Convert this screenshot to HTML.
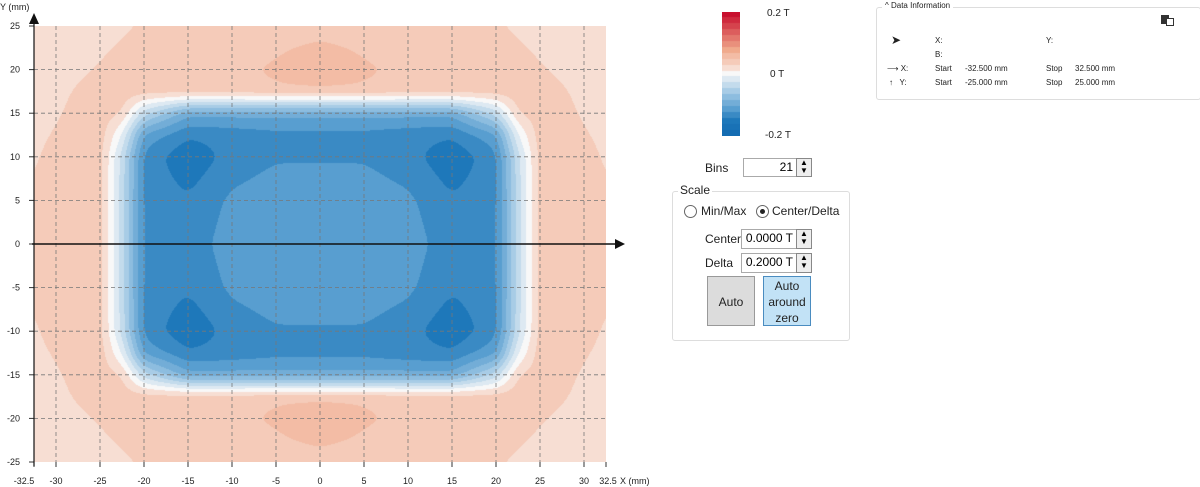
<!DOCTYPE html>
<html><head><meta charset="utf-8">
<style>
body{margin:0;width:1200px;height:487px;background:#fff;font-family:"Liberation Sans",sans-serif;overflow:hidden;position:relative}
.a{position:absolute;white-space:nowrap}
.t{font-size:9px;color:#222}
.ui{font-size:12px;color:#222}
.inp{position:absolute;border:1px solid #aaa;background:#fff;font-size:12px;text-align:right;box-sizing:border-box;padding-right:3px;line-height:17px}
.spin{position:absolute;width:16px;border:1px solid #888;box-sizing:border-box;background:#eee;font-size:8px;line-height:8px;text-align:center}
.di{font-size:8px;color:#222}
</style></head><body>
<canvas id="heat" width="572" height="436" style="position:absolute;left:34px;top:26px"></canvas>
<svg id="ov" width="660" height="487" style="position:absolute;left:0;top:0"></svg>

<canvas id="cbar" width="18" height="124" style="position:absolute;left:722px;top:12px"></canvas>
<div class="a t" style="left:767px;top:8px;font-size:10px">0.2 T</div>
<div class="a t" style="left:770px;top:69px;font-size:10px">0 T</div>
<div class="a t" style="left:765px;top:130px;font-size:10px">-0.2 T</div>

<div class="a ui" style="left:705px;top:161px">Bins</div>
<div class="inp" style="left:743px;top:158px;width:54px;height:19px">21</div>
<div class="spin" style="left:796px;top:158px;height:19px">▲<br>▼</div>

<div class="a" style="left:672px;top:191px;width:176px;height:148px;border:1px solid #ddd;border-radius:3px"></div>
<div class="a ui" style="left:678px;top:183px;background:#fff;padding:0 2px">Scale</div>
<div class="a" style="left:684px;top:205px;width:11px;height:11px;border:1px solid #666;border-radius:50%"></div>
<div class="a ui" style="left:701px;top:204px">Min/Max</div>
<div class="a" style="left:756px;top:205px;width:11px;height:11px;border:1px solid #666;border-radius:50%"><div style="position:absolute;left:3px;top:3px;width:5px;height:5px;background:#222;border-radius:50%"></div></div>
<div class="a ui" style="left:772px;top:204px">Center/Delta</div>
<div class="a ui" style="left:705px;top:232px">Center</div>
<div class="inp" style="left:741px;top:229px;width:56px;height:20px">0.0000 T</div>
<div class="spin" style="left:796px;top:229px;height:20px">▲<br>▼</div>
<div class="a ui" style="left:705px;top:256px">Delta</div>
<div class="inp" style="left:741px;top:253px;width:56px;height:20px">0.2000 T</div>
<div class="spin" style="left:796px;top:253px;height:20px">▲<br>▼</div>
<div class="a ui" style="left:707px;top:276px;width:48px;height:50px;background:#dcdcdc;border:1px solid #999;box-sizing:border-box;text-align:center;line-height:50px">Auto</div>
<div class="a ui" style="left:763px;top:276px;width:48px;height:50px;background:#c2e2f6;border:1px solid #4a8cc0;box-sizing:border-box;text-align:center;line-height:16px;padding-top:1px;white-space:normal">Auto around zero</div>

<div class="a" style="left:876px;top:7px;width:323px;height:91px;border:1px solid #ddd;border-radius:3px"></div>
<div class="a di" style="left:882px;top:1px;background:#fff;padding:0 3px">^ Data Information</div>
<div class="a" style="left:1161px;top:15px;width:8px;height:9px;background:#333"></div>
<div class="a" style="left:1166px;top:18px;width:6px;height:6px;border:1px solid #333;background:#fff"></div>
<div class="a di" style="left:891px;top:33px;font-size:12px">➤</div>
<div class="a di" style="left:935px;top:36px">X:</div>
<div class="a di" style="left:1046px;top:36px">Y:</div>
<div class="a di" style="left:935px;top:50px">B:</div>
<div class="a di" style="left:887px;top:64px">⟶ X:</div>
<div class="a di" style="left:935px;top:64px">Start</div>
<div class="a di" style="left:965px;top:64px">-32.500 mm</div>
<div class="a di" style="left:1046px;top:64px">Stop</div>
<div class="a di" style="left:1075px;top:64px">32.500 mm</div>
<div class="a di" style="left:889px;top:78px">↑&nbsp;&nbsp; Y:</div>
<div class="a di" style="left:935px;top:78px">Start</div>
<div class="a di" style="left:965px;top:78px">-25.000 mm</div>
<div class="a di" style="left:1046px;top:78px">Stop</div>
<div class="a di" style="left:1075px;top:78px">25.000 mm</div>

<script>
const xs=[-32.5,-30,-25,-22.5,-20,-15,-10,-5,0,5,10,15,20,22.5,25,30,32.5];
const ys=[25,20,17.5,15,12.5,10,5,0,-5,-10,-12.5,-15,-17.5,-20,-25];
const field=[
[.015,.017,.022,.026,.03,.035,.038,.04,.04,.04,.038,.035,.03,.026,.022,.017,.015],
[.018,.022,.03,.035,.04,.042,.044,.05,.062,.05,.044,.042,.04,.035,.03,.022,.018],
[.02,.025,.035,.04,.04,.042,.044,.045,.045,.045,.044,.042,.04,.04,.035,.025,.02],
[.022,.027,.038,.03,-.04,-.1,-.1,-.1,-.1,-.1,-.1,-.1,-.04,.03,.038,.027,.022],
[.025,.03,.04,-.01,-.11,-.14,-.135,-.13,-.13,-.13,-.135,-.14,-.11,-.01,.04,.03,.025],
[.027,.033,.038,-.035,-.13,-.158,-.135,-.126,-.126,-.126,-.135,-.158,-.13,-.035,.038,.033,.027],
[.03,.036,.038,-.038,-.13,-.14,-.12,-.112,-.11,-.112,-.12,-.14,-.13,-.038,.038,.036,.03],
[.032,.038,.038,-.038,-.13,-.135,-.114,-.11,-.108,-.11,-.114,-.135,-.13,-.038,.038,.038,.032],
[.03,.036,.038,-.038,-.13,-.14,-.12,-.112,-.11,-.112,-.12,-.14,-.13,-.038,.038,.036,.03],
[.027,.033,.038,-.035,-.13,-.158,-.135,-.126,-.126,-.126,-.135,-.158,-.13,-.035,.038,.033,.027],
[.025,.03,.04,-.01,-.11,-.14,-.135,-.13,-.13,-.13,-.135,-.14,-.11,-.01,.04,.03,.025],
[.022,.027,.038,.03,-.04,-.1,-.1,-.1,-.1,-.1,-.1,-.1,-.04,.03,.038,.027,.022],
[.02,.025,.035,.04,.04,.042,.044,.045,.045,.045,.044,.042,.04,.04,.035,.025,.02],
[.018,.022,.03,.035,.04,.042,.044,.05,.062,.05,.044,.042,.04,.035,.03,.022,.018],
[.015,.017,.022,.026,.03,.035,.038,.04,.04,.04,.038,.035,.03,.026,.022,.017,.015]];
const xTicks=[-32.5,-30,-25,-20,-15,-10,-5,0,5,10,15,20,25,30,32.5];
const yTicks=[25,20,15,10,5,0,-5,-10,-15,-20,-25];
const binCount=21, vCenter=0, vDelta=0.2;

const X0=34,X1=606,Y0=26,Y1=462;
const sx=v=>X0+(v+32.5)/65*(X1-X0);
const sy=v=>Y0+(25-v)/50*(Y1-Y0);
const stops=[[-1,[20,108,178]],[-0.8,[30,120,186]],[-0.7,[58,138,196]],[-0.6,[88,158,208]],[-0.3,[168,204,230]],[0,[248,248,248]],[0.1,[247,222,211]],[0.2,[245,203,185]],[0.3,[243,188,165]],[0.4,[240,170,140]],[1,[200,16,46]]];
function cmap(t){t=Math.max(-1,Math.min(1,t));for(let i=0;i<stops.length-1;i++){const a=stops[i],b=stops[i+1];if(t<=b[0]){const f=(t-a[0])/(b[0]-a[0]);return a[1].map((c,k)=>Math.round(c+(b[1][k]-c)*f));}}return stops[stops.length-1][1];}
function binColor(v){const w=2*vDelta/binCount;let k=Math.round((v-vCenter)/w);const h=(binCount-1)/2;k=Math.max(-h,Math.min(h,k));return cmap(k/h);}
function idx(arr,v,desc){for(let i=0;i<arr.length-1;i++){const a=arr[i],b=arr[i+1];if(desc? (v<=a&&v>=b):(v>=a&&v<=b))return [i,(v-a)/(b-a)];}return [arr.length-2,1];}
function val(x,y){const [i,fx]=idx(xs,x,false),[j,fy]=idx(ys,y,true);
const a=field[j][i],b=field[j][i+1],c=field[j+1][i],d=field[j+1][i+1];return (a*(1-fx)+b*fx)*(1-fy)+(c*(1-fx)+d*fx)*fy;}
const cv=document.getElementById('heat'),ctx=cv.getContext('2d');
const W=cv.width,H=cv.height;
let F=new Float32Array(W*H);
for(let py=0;py<H;py++){const y=25-(py+0.5)/H*50;for(let px=0;px<W;px++){const x=-32.5+(px+0.5)/W*65;F[py*W+px]=val(x,y);}}
function blur(src,r,horiz){const out=new Float32Array(W*H);
 if(horiz){for(let y=0;y<H;y++){for(let x=0;x<W;x++){let s=0,n=0;for(let k=-r;k<=r;k++){const xx=Math.min(W-1,Math.max(0,x+k));s+=src[y*W+xx];n++;}out[y*W+x]=s/n;}}}
 else{for(let x=0;x<W;x++){for(let y=0;y<H;y++){let s=0,n=0;for(let k=-r;k<=r;k++){const yy=Math.min(H-1,Math.max(0,y+k));s+=src[yy*W+x];n++;}out[y*W+x]=s/n;}}}
 return out;}
for(let it=0;it<2;it++){F=blur(F,5,true);F=blur(F,5,false);}
const img=ctx.createImageData(W,H);
for(let i=0;i<W*H;i++){const c=binColor(F[i]);img.data[i*4]=c[0];img.data[i*4+1]=c[1];img.data[i*4+2]=c[2];img.data[i*4+3]=255;}
ctx.putImageData(img,0,0);
const cb=document.getElementById('cbar'),cc=cb.getContext('2d');
for(let k=0;k<binCount;k++){const v=vCenter+vDelta-(k+0.5)*2*vDelta/binCount;const c=binColor(v);cc.fillStyle=`rgb(${c})`;cc.fillRect(0,Math.floor(k*124/binCount),18,Math.ceil(124/binCount)+1);}

const svg=document.getElementById('ov'),NS='http://www.w3.org/2000/svg';
function mk(t,at,p){const e=document.createElementNS(NS,t);for(const k in at)e.setAttribute(k,at[k]);(p||svg).appendChild(e);return e;}
xTicks.forEach(v=>{if(Math.abs(v)===32.5)return;const x=sx(v);
const g=mk('line',{x1:x,y1:Y0,x2:x,y2:Y1,stroke:'#777','stroke-width':0.8,'stroke-dasharray':'4,3'});

});
yTicks.forEach(v=>{if(v===0||Math.abs(v)===25)return;const y=sy(v);
const g=mk('line',{x1:X0,y1:y,x2:X1,y2:y,stroke:'#777','stroke-width':0.8,'stroke-dasharray':'4,3'});

});
xTicks.forEach(v=>{const x=sx(v);
const tk=mk('line',{x1:x,y1:Y1,x2:x,y2:Y1+5,stroke:'#333','stroke-width':1});


const tx=mk('text',{x:v===-32.5?x-10:(v===32.5?x+2:x),y:484,'font-size':9,'text-anchor':'middle','font-family':'Liberation Sans',fill:'#222'});
tx.textContent=v;

});
yTicks.forEach(v=>{const y=sy(v);
const tk=mk('line',{x1:X0-5,y1:y,x2:X0,y2:y,stroke:'#333','stroke-width':1});


const tx=mk('text',{x:20,y:y+3,'font-size':9,'text-anchor':'end','font-family':'Liberation Sans',fill:'#222'});
tx.textContent=v;

});
const xa=mk('line',{x1:X0-2,y1:sy(0),x2:615,y2:sy(0),stroke:'#111','stroke-width':1.5});


const xh=mk('polygon',{points:`615,${sy(0)-5} 625,${sy(0)} 615,${sy(0)+5}`,fill:'#111'});


const ya=mk('line',{x1:X0,y1:Y1+4,x2:X0,y2:22,stroke:'#111','stroke-width':1.2});


const yh=mk('polygon',{points:`${X0-5},24 ${X0},13 ${X0+5},24`,fill:'#111'});


const yt=mk('text',{x:0,y:10,'font-size':9,'font-family':'Liberation Sans',fill:'#222'});yt.textContent='Y (mm)';


const xt=mk('text',{x:620,y:484,'font-size':9,'font-family':'Liberation Sans',fill:'#222'});xt.textContent='X (mm)';


</script>
</body></html>
